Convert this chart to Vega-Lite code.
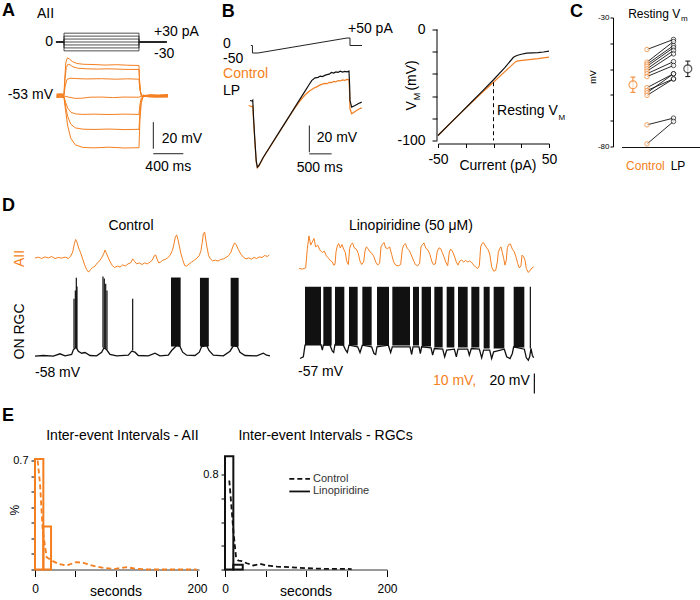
{
"$schema": "https://vega.github.io/schema/vega-lite/v6.json",
"background": "white",
"padding": {"left": 2, "top": 1.5, "right": 0, "bottom": 0},
"config": {
  "font": "Liberation Sans",
  "view": {"stroke": null},
  "axis": {"grid": false, "domainColor": "black", "tickColor": "black", "labelColor": "black", "titleColor": "black", "domainWidth": 1, "tickWidth": 1, "labelFlush": false, "labelOverlap": false},
  "text": {"color": "black", "fontSize": 14}
},
"spacing": 11,
"vconcat": [
{
 "bounds": "flush", "spacing": 26,
 "hconcat": [
   {
    "width": 190, "height": 155,
    "resolve": {"scale": {"x": "independent", "y": "independent"}},
    "encoding": {
      "x": {"field": "t", "type": "quantitative", "scale": {"domain": [-826.7, 1706.7], "nice": false, "zero": false}, "axis": null},
      "y": {"field": "v", "type": "quantitative", "scale": {"domain": [-110.8, 5.5], "nice": false, "zero": false}, "axis": null}
    },
    "layer": [
     {"data": {"values": [
       {"lvl":30,"i":0,"t":-107,"pA":0},{"lvl":30,"i":1,"t":0,"pA":0},{"lvl":30,"i":2,"t":0,"pA":30},{"lvl":30,"i":3,"t":1000,"pA":30},{"lvl":30,"i":4,"t":1000,"pA":0},{"lvl":30,"i":5,"t":1369,"pA":0},
       {"lvl":20,"i":0,"t":-107,"pA":0},{"lvl":20,"i":1,"t":0,"pA":0},{"lvl":20,"i":2,"t":0,"pA":20},{"lvl":20,"i":3,"t":1000,"pA":20},{"lvl":20,"i":4,"t":1000,"pA":0},{"lvl":20,"i":5,"t":1369,"pA":0},
       {"lvl":10,"i":0,"t":-107,"pA":0},{"lvl":10,"i":1,"t":0,"pA":0},{"lvl":10,"i":2,"t":0,"pA":10},{"lvl":10,"i":3,"t":1000,"pA":10},{"lvl":10,"i":4,"t":1000,"pA":0},{"lvl":10,"i":5,"t":1369,"pA":0},
       {"lvl":0,"i":0,"t":-107,"pA":0},{"lvl":0,"i":1,"t":0,"pA":0},{"lvl":0,"i":2,"t":0,"pA":0},{"lvl":0,"i":3,"t":1000,"pA":0},{"lvl":0,"i":4,"t":1000,"pA":0},{"lvl":0,"i":5,"t":1369,"pA":0},
       {"lvl":-10,"i":0,"t":-107,"pA":0},{"lvl":-10,"i":1,"t":0,"pA":0},{"lvl":-10,"i":2,"t":0,"pA":-10},{"lvl":-10,"i":3,"t":1000,"pA":-10},{"lvl":-10,"i":4,"t":1000,"pA":0},{"lvl":-10,"i":5,"t":1369,"pA":0},
       {"lvl":-20,"i":0,"t":-107,"pA":0},{"lvl":-20,"i":1,"t":0,"pA":0},{"lvl":-20,"i":2,"t":0,"pA":-20},{"lvl":-20,"i":3,"t":1000,"pA":-20},{"lvl":-20,"i":4,"t":1000,"pA":0},{"lvl":-20,"i":5,"t":1369,"pA":0},
       {"lvl":-30,"i":0,"t":-107,"pA":0},{"lvl":-30,"i":1,"t":0,"pA":0},{"lvl":-30,"i":2,"t":0,"pA":-30},{"lvl":-30,"i":3,"t":1000,"pA":-30},{"lvl":-30,"i":4,"t":1000,"pA":0},{"lvl":-30,"i":5,"t":1369,"pA":0}
      ]},
      "mark": {"type": "line", "color": "#222", "strokeWidth": 0.8},
      "encoding": {
        "y": {"field": "pA", "type": "quantitative", "scale": {"domain": [-442.4, 83.1], "nice": false, "zero": false}, "axis": null},
        "detail": {"field": "lvl", "type": "nominal"},
        "order": {"field": "i", "type": "quantitative"}
      }
     },
     {"data": {"values": [
       {"lvl":30,"t":-100,"v":-52.0},{"lvl":30,"t":-50,"v":-51.7},{"lvl":30,"t":0,"v":-52.0},{"lvl":30,"t":10,"v":-40},{"lvl":30,"t":25,"v":-28},{"lvl":30,"t":45,"v":-24.8},{"lvl":30,"t":70,"v":-25.5},{"lvl":30,"t":110,"v":-27.5},{"lvl":30,"t":170,"v":-29},{"lvl":30,"t":260,"v":-29.6},{"lvl":30,"t":400,"v":-29.8},{"lvl":30,"t":550,"v":-30.2},{"lvl":30,"t":700,"v":-29.9},{"lvl":30,"t":850,"v":-30.3},{"lvl":30,"t":1000,"v":-30.5},{"lvl":30,"t":1008,"v":-42},{"lvl":30,"t":1020,"v":-50},{"lvl":30,"t":1040,"v":-53.5},{"lvl":30,"t":1080,"v":-53},{"lvl":30,"t":1150,"v":-52.4},{"lvl":30,"t":1250,"v":-52.7},{"lvl":30,"t":1387,"v":-52.3},
       {"lvl":20,"t":-100,"v":-52.5},{"lvl":20,"t":-50,"v":-52.2},{"lvl":20,"t":0,"v":-52.5},{"lvl":20,"t":12,"v":-42},{"lvl":20,"t":30,"v":-32},{"lvl":20,"t":55,"v":-29.5},{"lvl":20,"t":80,"v":-30},{"lvl":20,"t":120,"v":-31.5},{"lvl":20,"t":180,"v":-32.5},{"lvl":20,"t":300,"v":-33},{"lvl":20,"t":450,"v":-33.2},{"lvl":20,"t":600,"v":-33},{"lvl":20,"t":800,"v":-33.4},{"lvl":20,"t":1000,"v":-33.5},{"lvl":20,"t":1008,"v":-44},{"lvl":20,"t":1022,"v":-51},{"lvl":20,"t":1045,"v":-53.8},{"lvl":20,"t":1090,"v":-53.2},{"lvl":20,"t":1160,"v":-52.8},{"lvl":20,"t":1260,"v":-53},{"lvl":20,"t":1387,"v":-52.6},
       {"lvl":10,"t":-100,"v":-53.0},{"lvl":10,"t":-50,"v":-52.7},{"lvl":10,"t":0,"v":-53},{"lvl":10,"t":15,"v":-46},{"lvl":10,"t":40,"v":-41},{"lvl":10,"t":80,"v":-40},{"lvl":10,"t":150,"v":-40.3},{"lvl":10,"t":300,"v":-40.6},{"lvl":10,"t":500,"v":-40.4},{"lvl":10,"t":700,"v":-40.8},{"lvl":10,"t":850,"v":-40.5},{"lvl":10,"t":1000,"v":-40.8},{"lvl":10,"t":1010,"v":-48},{"lvl":10,"t":1030,"v":-53.5},{"lvl":10,"t":1060,"v":-54},{"lvl":10,"t":1120,"v":-53.3},{"lvl":10,"t":1220,"v":-53.2},{"lvl":10,"t":1387,"v":-53},
       {"lvl":0,"t":-100,"v":-53.4},{"lvl":0,"t":-50,"v":-53.1},{"lvl":0,"t":0,"v":-53.4},{"lvl":0,"t":60,"v":-54.2},{"lvl":0,"t":150,"v":-55.2},{"lvl":0,"t":250,"v":-55},{"lvl":0,"t":350,"v":-54.3},{"lvl":0,"t":500,"v":-54.2},{"lvl":0,"t":650,"v":-54.6},{"lvl":0,"t":800,"v":-54.2},{"lvl":0,"t":1000,"v":-54.3},{"lvl":0,"t":1030,"v":-53.5},{"lvl":0,"t":1100,"v":-53.2},{"lvl":0,"t":1200,"v":-53.6},{"lvl":0,"t":1387,"v":-53.4},
       {"lvl":-10,"t":-100,"v":-53.8},{"lvl":-10,"t":-50,"v":-54.1},{"lvl":-10,"t":0,"v":-53.8},{"lvl":-10,"t":20,"v":-58},{"lvl":-10,"t":50,"v":-62.5},{"lvl":-10,"t":90,"v":-65.5},{"lvl":-10,"t":150,"v":-66.8},{"lvl":-10,"t":250,"v":-67.2},{"lvl":-10,"t":400,"v":-67},{"lvl":-10,"t":600,"v":-67.3},{"lvl":-10,"t":800,"v":-67},{"lvl":-10,"t":1000,"v":-67.2},{"lvl":-10,"t":1012,"v":-60},{"lvl":-10,"t":1030,"v":-55},{"lvl":-10,"t":1060,"v":-53.2},{"lvl":-10,"t":1120,"v":-53.6},{"lvl":-10,"t":1220,"v":-53.8},{"lvl":-10,"t":1387,"v":-53.6},
       {"lvl":-20,"t":-100,"v":-54.2},{"lvl":-20,"t":-50,"v":-53.9},{"lvl":-20,"t":0,"v":-54.2},{"lvl":-20,"t":20,"v":-61},{"lvl":-20,"t":50,"v":-69},{"lvl":-20,"t":90,"v":-74.5},{"lvl":-20,"t":150,"v":-77.3},{"lvl":-20,"t":250,"v":-78.3},{"lvl":-20,"t":400,"v":-78.5},{"lvl":-20,"t":600,"v":-78.2},{"lvl":-20,"t":800,"v":-78.6},{"lvl":-20,"t":1000,"v":-78.4},{"lvl":-20,"t":1012,"v":-66},{"lvl":-20,"t":1030,"v":-57},{"lvl":-20,"t":1060,"v":-53},{"lvl":-20,"t":1120,"v":-53.8},{"lvl":-20,"t":1220,"v":-54},{"lvl":-20,"t":1387,"v":-53.8},
       {"lvl":-30,"t":-100,"v":-54.6},{"lvl":-30,"t":-50,"v":-54.3},{"lvl":-30,"t":0,"v":-54.6},{"lvl":-30,"t":20,"v":-64},{"lvl":-30,"t":50,"v":-76},{"lvl":-30,"t":90,"v":-85},{"lvl":-30,"t":150,"v":-90},{"lvl":-30,"t":250,"v":-92},{"lvl":-30,"t":400,"v":-92.3},{"lvl":-30,"t":600,"v":-91.8},{"lvl":-30,"t":800,"v":-92.4},{"lvl":-30,"t":1000,"v":-92.2},{"lvl":-30,"t":1012,"v":-72},{"lvl":-30,"t":1030,"v":-59},{"lvl":-30,"t":1060,"v":-52.5},{"lvl":-30,"t":1120,"v":-54},{"lvl":-30,"t":1220,"v":-54.3},{"lvl":-30,"t":1387,"v":-54.2}
      ]},
      "mark": {"type": "line", "color": "#F47F20", "strokeWidth": 1},
      "encoding": {"detail": {"field": "lvl", "type": "nominal"}}
     },
     {"data": {"values": [{"t":1191,"t2":1191,"v":-73,"v2":-93},{"t":1191,"t2":1591,"v":-96.7,"v2":-96.7}]},
      "mark": {"type": "rule", "color": "#222", "strokeWidth": 1},
      "encoding": {"x2": {"field": "t2"}, "y2": {"field": "v2"}}
     },
     {"data": {"values": [{"t":-826.7,"v":10.4,"label":"A"}]},
      "mark": {"type": "text", "align": "left", "baseline": "middle", "fontSize": 18, "fontWeight": "bold"},
      "encoding": {"text": {"field": "label"}}
     },
     {"data": {"values": [{"t":-360,"v":8.3,"label":"AII"},{"t":1303,"v":-85.3,"label":"20 mV"}]},
      "mark": {"type": "text", "align": "left", "baseline": "middle", "fontSize": 14},
      "encoding": {"text": {"field": "label"}}
     },
     {"data": {"values": [{"t":-146.7,"v":-53,"label":"-53 mV"}]},
      "mark": {"type": "text", "align": "right", "baseline": "middle", "fontSize": 14},
      "encoding": {"text": {"field": "label"}}
     },
     {"data": {"values": [{"t":1391,"v":-106.3,"label":"400 ms"}]},
      "mark": {"type": "text", "align": "center", "baseline": "middle", "fontSize": 14},
      "encoding": {"text": {"field": "label"}}
     },
     {"data": {"values": [{"t":1200,"pA":33.2,"label":"+30 pA"},{"t":1200,"pA":-39,"label":"-30"}]},
      "mark": {"type": "text", "align": "left", "baseline": "middle", "fontSize": 14},
      "encoding": {"y": {"field": "pA", "type": "quantitative", "scale": {"domain": [-442.4, 83.1], "nice": false, "zero": false}, "axis": null}, "text": {"field": "label"}}
     },
     {"data": {"values": [{"t":-146.7,"pA":0,"label":"0"}]},
      "mark": {"type": "text", "align": "right", "baseline": "middle", "fontSize": 14},
      "encoding": {"y": {"field": "pA", "type": "quantitative", "scale": {"domain": [-442.4, 83.1], "nice": false, "zero": false}, "axis": null}, "text": {"field": "label"}}
     }
    ]
   },
   {
    "width": 194, "height": 155,
    "resolve": {"scale": {"x": "independent", "y": "independent"}},
    "encoding": {
      "x": {"field": "t", "type": "quantitative", "scale": {"domain": [-898.9, 3460.7], "nice": false, "zero": false}, "axis": null},
      "y": {"field": "v", "type": "quantitative", "scale": {"domain": [-98.7, 16.1], "nice": false, "zero": false}, "axis": null}
    },
    "layer": [
     {"data": {"values": [{"i":0,"t":-160,"pA":0},{"i":1,"t":-125,"pA":0},{"i":2,"t":-125,"pA":-50},{"i":3,"t":0,"pA":-50},{"i":4,"t":2000,"pA":50},{"i":5,"t":2067,"pA":50},{"i":6,"t":2067,"pA":0},{"i":7,"t":2337,"pA":0}]},
      "mark": {"type": "line", "color": "#222", "strokeWidth": 1},
      "encoding": {"y": {"field": "pA", "type": "quantitative", "scale": {"domain": [-846.7, 186.7], "nice": false, "zero": false}, "axis": null}, "order": {"field": "i", "type": "quantitative"}}
     },
     {"data": {"values": [
       {"t":-210,"v":-49.1},{"t":-140,"v":-49.9},{"t":-118,"v":-49.5},{"t":-100,"v":-60},{"t":-70,"v":-76},{"t":-40,"v":-91},{"t":-15,"v":-95.2},{"t":20,"v":-94},{"t":120,"v":-87.6},{"t":300,"v":-78.2},{"t":500,"v":-67.8},{"t":700,"v":-57.4},{"t":830,"v":-50.8},{"t":950,"v":-45.5},{"t":1050,"v":-41.5},{"t":1150,"v":-38.5},{"t":1250,"v":-36.3},{"t":1318,"v":-35.3},{"t":1400,"v":-33.8},{"t":1450,"v":-33.2},{"t":1500,"v":-32.7},{"t":1550,"v":-32.9},{"t":1600,"v":-31.9},{"t":1650,"v":-32.2},{"t":1700,"v":-31.2},{"t":1750,"v":-31.5},{"t":1800,"v":-30.6},{"t":1850,"v":-30.9},{"t":1900,"v":-30.1},{"t":1950,"v":-30.4},{"t":2000,"v":-29.7},{"t":2045,"v":-30.0},{"t":2060,"v":-41},{"t":2067,"v":-51.5},{"t":2105,"v":-55.2},{"t":2180,"v":-53.5},{"t":2260,"v":-51.8},{"t":2330,"v":-50.8}
      ]},
      "mark": {"type": "line", "color": "#F47F20", "strokeWidth": 1.2}
     },
     {"data": {"values": [
       {"t":-180,"v":-45.4},{"t":-130,"v":-45.8},{"t":-118,"v":-45.2},{"t":-100,"v":-58},{"t":-70,"v":-75},{"t":-40,"v":-90},{"t":-15,"v":-94.8},{"t":20,"v":-93.5},{"t":120,"v":-87.4},{"t":300,"v":-78.0},{"t":500,"v":-67.5},{"t":700,"v":-57.1},{"t":900,"v":-46.6},{"t":1050,"v":-38.8},{"t":1150,"v":-33.5},{"t":1206,"v":-30.6},{"t":1281,"v":-28.6},{"t":1350,"v":-28.2},{"t":1400,"v":-27.3},{"t":1450,"v":-27.6},{"t":1500,"v":-26.8},{"t":1550,"v":-26.2},{"t":1600,"v":-25.9},{"t":1650,"v":-24.6},{"t":1700,"v":-25.1},{"t":1750,"v":-24.2},{"t":1800,"v":-24.5},{"t":1850,"v":-23.7},{"t":1900,"v":-24.3},{"t":1950,"v":-23.8},{"t":2000,"v":-24.1},{"t":2045,"v":-23.6},{"t":2060,"v":-35},{"t":2067,"v":-45.4},{"t":2105,"v":-50.3},{"t":2180,"v":-49.1},{"t":2260,"v":-47.6},{"t":2330,"v":-46.6}
      ]},
      "mark": {"type": "line", "color": "#111", "strokeWidth": 1.2}
     },
     {"data": {"values": [{"t":1154,"t2":1154,"v":-63.9,"v2":-83.7},{"t":1154,"t2":1654,"v":-84.9,"v2":-84.9}]},
      "mark": {"type": "rule", "color": "#222", "strokeWidth": 1},
      "encoding": {"x2": {"field": "t2"}, "y2": {"field": "v2"}}
     },
     {"data": {"values": [{"t":-816,"v":20,"label":"B"}]},
      "mark": {"type": "text", "align": "left", "baseline": "middle", "fontSize": 18, "fontWeight": "bold"},
      "encoding": {"text": {"field": "label"}}
     },
     {"data": {"values": [{"t":-786,"v":-38.7,"label":"LP"},{"t":1319,"v":-73.5,"label":"20 mV"}]},
      "mark": {"type": "text", "align": "left", "baseline": "middle", "fontSize": 14},
      "encoding": {"text": {"field": "label"}}
     },
     {"data": {"values": [{"t":-786,"v":-26.1,"label":"Control"}]},
      "mark": {"type": "text", "align": "left", "baseline": "middle", "fontSize": 14, "color": "#F47F20"},
      "encoding": {"text": {"field": "label"}}
     },
     {"data": {"values": [{"t":1387,"v":-95.4,"label":"500 ms"}]},
      "mark": {"type": "text", "align": "center", "baseline": "middle", "fontSize": 14},
      "encoding": {"text": {"field": "label"}}
     },
     {"data": {"values": [{"t":-786,"pA":13.3,"label":"0"},{"t":-786,"pA":-86.7,"label":"-50"},{"t":2022,"pA":113.3,"label":"+50 pA"}]},
      "mark": {"type": "text", "align": "left", "baseline": "middle", "fontSize": 14},
      "encoding": {"y": {"field": "pA", "type": "quantitative", "scale": {"domain": [-846.7, 186.7], "nice": false, "zero": false}, "axis": null}, "text": {"field": "label"}}
     }
    ]
   },
  {
   "width": 111, "height": 123,
   "encoding": {
     "x": {"field": "c", "type": "quantitative", "scale": {"domain": [-50, 50], "nice": false, "zero": false},
           "axis": {"values": [-50, -25, 0, 25, 50], "labelExpr": "datum.value == -50 ? '-50' : datum.value == 50 ? '50' : ''", "offset": 3, "tickSize": 4, "labelFontSize": 14, "labelPadding": 5, "title": null}},
     "y": {"field": "v", "type": "quantitative", "scale": {"domain": [-100, 10.8], "nice": false, "zero": false},
           "axis": {"values": [0, -20, -40, -60, -80, -100], "labelExpr": "datum.value == 0 ? '0' : datum.value == -100 ? '-100' : ''", "offset": 1, "domain": false, "tickSize": 5, "labelFontSize": 14, "labelPadding": 7, "title": null}}
   },
   "layer": [
    {"data": {"values": [{"c":-50,"v":-95.5},{"c":-40,"v":-85.6},{"c":-30,"v":-75.8},{"c":-20,"v":-66},{"c":-10,"v":-56.5},{"c":0,"v":-47.5},{"c":10,"v":-38.2},{"c":20,"v":-29},{"c":22,"v":-28.3},{"c":30,"v":-27.3},{"c":40,"v":-26.3},{"c":50,"v":-24.9}]},
     "mark": {"type": "line", "color": "#F47F20", "strokeWidth": 1.2}
    },
    {"data": {"values": [{"c":-50,"v":-95.5},{"c":-40,"v":-85.5},{"c":-30,"v":-75.5},{"c":-20,"v":-65.5},{"c":-10,"v":-55.5},{"c":0,"v":-45.3},{"c":10,"v":-34.5},{"c":18,"v":-25},{"c":21,"v":-23.4},{"c":25,"v":-22.3},{"c":30,"v":-21.3},{"c":35,"v":-21.1},{"c":40,"v":-20.8},{"c":45,"v":-20.3},{"c":50,"v":-19.5}]},
     "mark": {"type": "line", "color": "#111", "strokeWidth": 1.2}
    },
    {"data": {"values": [{"c":0,"v":-47.5,"v2":-100}]},
     "mark": {"type": "rule", "color": "black", "strokeDash": [4, 3], "strokeWidth": 1},
     "encoding": {"y2": {"field": "v2"}}
    },
    {"data": {"values": [{"c":-50.9,"v":-100,"v2":0}]},
     "mark": {"type": "rule", "color": "black", "strokeWidth": 1},
     "encoding": {"y2": {"field": "v2"}}
    },
    {"data": {"values": [{"c":3.2,"v":-73.7,"label":"Resting V"}]},
     "mark": {"type": "text", "align": "left", "baseline": "middle", "fontSize": 14},
     "encoding": {"text": {"field": "label"}}
    },
    {"data": {"values": [{"c":58.6,"v":-79.7,"label":"M"}]},
     "mark": {"type": "text", "align": "left", "baseline": "middle", "fontSize": 8},
     "encoding": {"text": {"field": "label"}}
    },
    {"data": {"values": [{"c":4,"v":-123.4,"label":"Current (pA)"}]},
     "mark": {"type": "text", "align": "center", "baseline": "middle", "fontSize": 14},
     "encoding": {"text": {"field": "label"}}
    },
    {"data": {"values": [{"c":-73,"v":-68.7,"label":"V"},{"c":-73,"v":-41.4,"label":"(mV)"}]},
     "mark": {"type": "text", "align": "center", "baseline": "middle", "fontSize": 14, "angle": 270},
     "encoding": {"text": {"field": "label"}}
    },
    {"data": {"values": [{"c":-68.9,"v":-60.4,"label":"M"}]},
     "mark": {"type": "text", "align": "center", "baseline": "middle", "fontSize": 9, "angle": 270},
     "encoding": {"text": {"field": "label"}}
    }
   ]
  },
 {
  "width": 125, "height": 129,
  "data": {"values": [
    {"pair":1,"cond":"Control","x":1,"mV":-42.4},{"pair":1,"cond":"LP","x":2,"mV":-38.5},
    {"pair":2,"cond":"Control","x":1,"mV":-47.3},{"pair":2,"cond":"LP","x":2,"mV":-39.3},
    {"pair":3,"cond":"Control","x":1,"mV":-48.1},{"pair":3,"cond":"LP","x":2,"mV":-40.9},
    {"pair":4,"cond":"Control","x":1,"mV":-48.9},{"pair":4,"cond":"LP","x":2,"mV":-41.7},
    {"pair":5,"cond":"Control","x":1,"mV":-49.9},{"pair":5,"cond":"LP","x":2,"mV":-42.8},
    {"pair":6,"cond":"Control","x":1,"mV":-50.8},{"pair":6,"cond":"LP","x":2,"mV":-44.1},
    {"pair":7,"cond":"Control","x":1,"mV":-51.8},{"pair":7,"cond":"LP","x":2,"mV":-47.1},
    {"pair":8,"cond":"Control","x":1,"mV":-52.9},{"pair":8,"cond":"LP","x":2,"mV":-48.6},
    {"pair":9,"cond":"Control","x":1,"mV":-57.2},{"pair":9,"cond":"LP","x":2,"mV":-51.8},
    {"pair":10,"cond":"Control","x":1,"mV":-58.3},{"pair":10,"cond":"LP","x":2,"mV":-53.8},
    {"pair":11,"cond":"Control","x":1,"mV":-59.2},{"pair":11,"cond":"LP","x":2,"mV":-51.8},
    {"pair":12,"cond":"Control","x":1,"mV":-60.2},{"pair":12,"cond":"LP","x":2,"mV":-53.8},
    {"pair":13,"cond":"Control","x":1,"mV":-71.6},{"pair":13,"cond":"LP","x":2,"mV":-69.0},
    {"pair":14,"cond":"Control","x":1,"mV":-79.0},{"pair":14,"cond":"LP","x":2,"mV":-70.3}
  ]},
  "encoding": {
    "x": {"field": "x", "type": "quantitative", "scale": {"domain": [-1.717, 3.0], "nice": false, "zero": false}, "axis": null},
    "y": {"field": "mV", "type": "quantitative", "scale": {"domain": [-80, -30], "nice": false, "zero": false},
          "axis": {"offset": -38, "values": [-30, -40, -50, -60, -70, -80], "labelExpr": "datum.value == -30 ? '-30' : datum.value == -80 ? '-80' : ''", "tickSize": 3, "labelFontSize": 8, "labelPadding": 1, "title": null}}
  },
  "layer": [
   {"data": {"values": [{"x":0.057,"xb":3.0,"mV":-80.39}]},
    "mark": {"type": "rule", "color": "#111", "strokeWidth": 1},
    "encoding": {"x2": {"field": "xb"}}
   },
   {"mark": {"type": "line", "color": "#111", "strokeWidth": 0.9},
    "encoding": {"detail": {"field": "pair", "type": "nominal"}}
   },
   {"transform": [{"filter": "datum.cond == 'Control'"}],
    "mark": {"type": "point", "shape": "circle", "size": 20, "filled": true, "fill": "white", "stroke": "#F47F20", "strokeWidth": 1}
   },
   {"transform": [{"filter": "datum.cond == 'LP'"}],
    "mark": {"type": "point", "shape": "circle", "size": 20, "filled": true, "fill": "white", "stroke": "#111", "strokeWidth": 1}
   },
   {"data": {"values": [{"x":0.47,"mV":-59.0,"hi":-53.1}]},
    "mark": {"type": "rule", "color": "#F47F20", "strokeWidth": 1},
    "encoding": {"y2": {"field": "hi"}}
   },
   {"data": {"values": [{"x":2.54,"mV":-52.9,"hi":-46.9}]},
    "mark": {"type": "rule", "color": "#111", "strokeWidth": 1},
    "encoding": {"y2": {"field": "hi"}}
   },
   {"data": {"values": [{"x":0.376,"xb":0.564,"mV":-59.0},{"x":0.376,"xb":0.564,"mV":-53.1}]},
    "mark": {"type": "rule", "color": "#F47F20", "strokeWidth": 1},
    "encoding": {"x2": {"field": "xb"}}
   },
   {"data": {"values": [{"x":2.446,"xb":2.634,"mV":-52.9},{"x":2.446,"xb":2.634,"mV":-46.9}]},
    "mark": {"type": "rule", "color": "#111", "strokeWidth": 1},
    "encoding": {"x2": {"field": "xb"}}
   },
   {"data": {"values": [{"x":0.47,"mV":-56.1}]},
    "mark": {"type": "point", "shape": "circle", "size": 64, "filled": true, "fill": "white", "stroke": "#F47F20", "strokeWidth": 1.2}
   },
   {"data": {"values": [{"x":2.54,"mV":-49.9}]},
    "mark": {"type": "point", "shape": "circle", "size": 64, "filled": true, "fill": "white", "stroke": "#111", "strokeWidth": 1.2}
   },
   {"data": {"values": [{"x":0.94,"mV":-87.75,"label":"Control"}]},
    "mark": {"type": "text", "align": "center", "baseline": "middle", "fontSize": 12, "color": "#F47F20"},
    "encoding": {"text": {"field": "label"}}
   },
   {"data": {"values": [{"x":2.17,"mV":-87.75,"label":"LP"}]},
    "mark": {"type": "text", "align": "center", "baseline": "middle", "fontSize": 12},
    "encoding": {"text": {"field": "label"}}
   },
   {"data": {"values": [{"x":0.29,"mV":-28.6,"label":"Resting V"}]},
    "mark": {"type": "text", "align": "left", "baseline": "middle", "fontSize": 12},
    "encoding": {"text": {"field": "label"}}
   },
   {"data": {"values": [{"x":2.28,"mV":-30.6,"label":"m"}]},
    "mark": {"type": "text", "align": "left", "baseline": "middle", "fontSize": 8},
    "encoding": {"text": {"field": "label"}}
   },
   {"data": {"values": [{"x":-1.04,"mV":-53.1,"label":"mV"}]},
    "mark": {"type": "text", "align": "center", "baseline": "middle", "fontSize": 9, "angle": 270},
    "encoding": {"text": {"field": "label"}}
   },
   {"data": {"values": [{"x":-1.906,"mV":-27.7,"label":"C"}]},
    "mark": {"type": "text", "align": "left", "baseline": "middle", "fontSize": 18, "fontWeight": "bold"},
    "encoding": {"text": {"field": "label"}}
   }
  ]
 }
 ]
},
{
 "bounds": "flush", "spacing": 26,
 "hconcat": [
 {
  "width": 271, "height": 208,
  "resolve": {"scale": {"x": "independent", "y": "independent"}},
  "encoding": {
    "x": {"field": "t", "type": "quantitative", "scale": {"domain": [-8.425, 60.77], "nice": false, "zero": false}, "axis": null},
    "y": {"field": "v", "type": "quantitative", "scale": {"domain": [-96, 112], "nice": false, "zero": false}, "axis": null}
  },
  "layer": [
   {"data": {"values": [
     {"t":0.0,"v":-44.8},{"t":0.85,"v":-44.3},{"t":1.7,"v":-45.0},{"t":2.55,"v":-44.2},{"t":3.4,"v":-44.7},{"t":4.26,"v":-44.0},{"t":5.1,"v":-45.0},{"t":5.96,"v":-44.5},{"t":6.81,"v":-44.8},{"t":7.66,"v":-44.3},{"t":8.51,"v":-45.0},{"t":9.11,"v":-43.8},{"t":9.62,"v":-41.8},{"t":10.04,"v":-37.7},{"t":10.38,"v":-35.5},{"t":10.72,"v":-36.8},{"t":11.15,"v":-39.8},{"t":11.66,"v":-42.2},{"t":12.17,"v":-45.2},{"t":12.68,"v":-48.2},{"t":13.19,"v":-50.5},{"t":13.7,"v":-51.8},{"t":14.21,"v":-50.5},{"t":14.72,"v":-49.5},{"t":15.32,"v":-48.8},{"t":15.91,"v":-47.2},{"t":16.59,"v":-46.0},{"t":17.1,"v":-44.3},{"t":17.53,"v":-42.7},{"t":17.87,"v":-40.8},{"t":18.21,"v":-42.2},{"t":18.64,"v":-44.3},{"t":19.15,"v":-46.5},{"t":19.74,"v":-48.5},{"t":20.34,"v":-49.5},{"t":21.02,"v":-48.8},{"t":21.7,"v":-49.3},{"t":22.38,"v":-48.2},{"t":23.06,"v":-48.7},{"t":23.75,"v":-47.7},{"t":24.43,"v":-47.2},{"t":24.94,"v":-45.2},{"t":25.45,"v":-46.5},{"t":25.96,"v":-47.7},{"t":26.64,"v":-47.2},{"t":27.32,"v":-48.0},{"t":28.0,"v":-47.2},{"t":28.68,"v":-47.7},{"t":29.37,"v":-46.8},{"t":29.96,"v":-45.8},{"t":30.39,"v":-43.8},{"t":30.81,"v":-43.2},{"t":31.15,"v":-45.2},{"t":31.58,"v":-47.2},{"t":32.09,"v":-46.8},{"t":32.6,"v":-45.8},{"t":33.19,"v":-45.5},{"t":33.79,"v":-44.8},{"t":34.47,"v":-43.5},{"t":35.07,"v":-41.0},{"t":35.49,"v":-37.7},{"t":35.83,"v":-34.3},{"t":36.17,"v":-33.2},{"t":36.51,"v":-35.5},{"t":36.85,"v":-38.8},{"t":37.28,"v":-42.7},{"t":37.7,"v":-45.5},{"t":38.21,"v":-48.5},{"t":38.72,"v":-48.8},{"t":39.32,"v":-47.8},{"t":40.0,"v":-46.8},{"t":40.68,"v":-45.8},{"t":41.36,"v":-44.8},{"t":41.96,"v":-43.5},{"t":42.38,"v":-41.0},{"t":42.72,"v":-36.8},{"t":42.98,"v":-32.7},{"t":43.32,"v":-31.8},{"t":43.57,"v":-35.2},{"t":43.91,"v":-39.3},{"t":44.34,"v":-43.5},{"t":44.77,"v":-45.2},{"t":45.36,"v":-46.2},{"t":46.04,"v":-45.8},{"t":46.73,"v":-46.3},{"t":47.41,"v":-45.5},{"t":48.09,"v":-45.2},{"t":48.77,"v":-44.5},{"t":49.45,"v":-43.5},{"t":50.05,"v":-41.8},{"t":50.56,"v":-38.8},{"t":50.98,"v":-37.2},{"t":51.41,"v":-38.2},{"t":51.92,"v":-40.5},{"t":52.52,"v":-42.7},{"t":53.2,"v":-44.3},{"t":53.88,"v":-45.2},{"t":54.56,"v":-44.7},{"t":55.24,"v":-45.3},{"t":55.92,"v":-44.5},{"t":56.61,"v":-45.0},{"t":57.29,"v":-44.2},{"t":57.97,"v":-44.5},{"t":58.65,"v":-43.5},{"t":59.33,"v":-44.0},{"t":59.83,"v":-43.2}
    ]},
    "mark": {"type": "line", "color": "#F47F20", "strokeWidth": 1},
    "encoding": {"y": {"field": "v", "type": "quantitative", "scale": {"domain": [-113, -9], "nice": false, "zero": false}, "axis": null}}
   },
   {"data": {"values": [
     {"t":0,"v":-57.7},{"t":2.13,"v":-57.0},{"t":4.68,"v":-57.7},{"t":6.38,"v":-55.3},{"t":7.66,"v":-57.3},{"t":9.36,"v":-56.0},{"t":9.79,"v":-51.3},{"t":10.47,"v":-48.7},{"t":11.06,"v":-52.7},{"t":11.92,"v":-54.7},{"t":12.77,"v":-54.0},{"t":14.04,"v":-57.0},{"t":15.74,"v":-57.3},{"t":17.02,"v":-53.7},{"t":17.62,"v":-49.3},{"t":18.3,"v":-51.3},{"t":19.15,"v":-56.0},{"t":20.85,"v":-57.3},{"t":23.83,"v":-56.7},{"t":24.68,"v":-52.7},{"t":25.53,"v":-53.7},{"t":26.38,"v":-57.0},{"t":28.94,"v":-57.3},{"t":30.64,"v":-54.7},{"t":31.91,"v":-57.3},{"t":34.04,"v":-56.7},{"t":34.89,"v":-52.0},{"t":36.17,"v":-47.0},{"t":37.02,"v":-48.0},{"t":37.7,"v":-53.7},{"t":38.72,"v":-56.7},{"t":40.85,"v":-57.0},{"t":41.96,"v":-53.7},{"t":42.55,"v":-48.0},{"t":43.83,"v":-47.0},{"t":44.42,"v":-52.0},{"t":45.53,"v":-56.7},{"t":48.09,"v":-57.3},{"t":49.79,"v":-52.7},{"t":50.64,"v":-47.3},{"t":51.66,"v":-48.0},{"t":52.34,"v":-53.7},{"t":53.62,"v":-57.0},{"t":56.6,"v":-57.3},{"t":58.3,"v":-54.7},{"t":59.15,"v":-56.7},{"t":60.0,"v":-57.3}
    ]},
    "mark": {"type": "line", "color": "#111", "strokeWidth": 1.3}
   },
   {"data": {"values": [
     {"t":9.96,"v":-0.3,"lo":-50},{"t":10.3,"v":8,"lo":-49},{"t":10.55,"v":20.7,"lo":-49},{"t":10.72,"v":12,"lo":-50},
     {"t":17.36,"v":22,"lo":-49},{"t":17.7,"v":20,"lo":-49},{"t":18.05,"v":14.7,"lo":-50},{"t":18.38,"v":8,"lo":-51},
     {"t":24.94,"v":-0.3,"lo":-52}
    ]},
    "mark": {"type": "rule", "color": "#111", "strokeWidth": 1.2},
    "encoding": {"y2": {"field": "lo"}}
   },
   {"data": {"values": [
     {"t":34.72,"t2":37.19,"v":21,"lo":-48},{"t":42.12,"t2":44.38,"v":20.7,"lo":-48},{"t":49.96,"t2":52.0,"v":20.7,"lo":-48}
    ]},
    "mark": {"type": "rect", "color": "#111"},
    "encoding": {"x2": {"field": "t2"}, "y2": {"field": "lo"}}
   },
   {"data": {"values": [{"t":-8.425,"v":92.5,"label":"D"}]},
    "mark": {"type": "text", "align": "left", "baseline": "middle", "fontSize": 18, "fontWeight": "bold"},
    "encoding": {"text": {"field": "label"}}
   },
   {"data": {"values": [{"t":24.5,"v":73,"label":"Control"}]},
    "mark": {"type": "text", "align": "center", "baseline": "middle", "fontSize": 14},
    "encoding": {"text": {"field": "label"}}
   },
   {"data": {"values": [{"t":0,"v":-74.5,"label":"-58 mV"}]},
    "mark": {"type": "text", "align": "left", "baseline": "middle", "fontSize": 14},
    "encoding": {"text": {"field": "label"}}
   },
   {"data": {"values": [{"t":-3.83,"v":-33,"label":"ON RGC"}]},
    "mark": {"type": "text", "align": "center", "baseline": "middle", "fontSize": 14, "angle": 270},
    "encoding": {"text": {"field": "label"}}
   },
   {"data": {"values": [{"t":-3.83,"v":-45,"label":"AII"}]},
    "mark": {"type": "text", "align": "center", "baseline": "middle", "fontSize": 14, "angle": 270, "color": "#F47F20"},
    "encoding": {"y": {"field": "v", "type": "quantitative", "scale": {"domain": [-113, -9], "nice": false, "zero": false}, "axis": null}, "text": {"field": "label"}}
   }
  ]
 },
 {
  "width": 234, "height": 208,
  "resolve": {"scale": {"x": "independent", "y": "independent"}},
  "encoding": {
    "x": {"field": "t", "type": "quantitative", "scale": {"domain": [0, 60], "nice": false, "zero": false}, "axis": null},
    "y": {"field": "v", "type": "quantitative", "scale": {"domain": [-96, 112], "nice": false, "zero": false}, "axis": null}
  },
  "layer": [
   {"data": {"values": [
     {"t":0.0,"v":-50.0},{"t":0.85,"v":-50.3},{"t":1.71,"v":-49.7},{"t":2.14,"v":-40.0},{"t":2.56,"v":-33.7},{"t":2.99,"v":-38.3},{"t":3.42,"v":-36.7},{"t":3.85,"v":-35.0},{"t":4.27,"v":-39.2},{"t":4.79,"v":-38.3},{"t":5.38,"v":-40.8},{"t":5.98,"v":-42.0},{"t":6.5,"v":-41.3},{"t":7.01,"v":-43.7},{"t":7.52,"v":-44.7},{"t":8.03,"v":-46.0},{"t":8.55,"v":-46.7},{"t":8.89,"v":-48.3},{"t":9.23,"v":-48.0},{"t":9.49,"v":-41.7},{"t":9.83,"v":-38.7},{"t":10.17,"v":-37.5},{"t":10.6,"v":-39.7},{"t":11.03,"v":-38.0},{"t":11.45,"v":-40.3},{"t":11.88,"v":-42.0},{"t":12.22,"v":-46.3},{"t":12.65,"v":-48.0},{"t":12.99,"v":-40.0},{"t":13.33,"v":-38.0},{"t":13.76,"v":-37.3},{"t":14.19,"v":-39.7},{"t":14.7,"v":-40.3},{"t":15.21,"v":-42.5},{"t":15.64,"v":-46.3},{"t":16.07,"v":-48.0},{"t":16.58,"v":-46.7},{"t":16.92,"v":-41.3},{"t":17.27,"v":-39.2},{"t":17.69,"v":-40.0},{"t":18.2,"v":-41.7},{"t":18.72,"v":-42.5},{"t":19.23,"v":-44.2},{"t":19.66,"v":-46.7},{"t":20.17,"v":-48.3},{"t":20.68,"v":-47.3},{"t":21.03,"v":-39.2},{"t":21.37,"v":-38.0},{"t":21.79,"v":-37.0},{"t":22.22,"v":-39.7},{"t":22.73,"v":-40.0},{"t":23.25,"v":-39.2},{"t":23.76,"v":-43.0},{"t":24.27,"v":-46.7},{"t":24.79,"v":-48.3},{"t":25.47,"v":-48.7},{"t":26.07,"v":-48.0},{"t":26.5,"v":-40.3},{"t":26.84,"v":-38.3},{"t":27.27,"v":-37.5},{"t":27.78,"v":-40.0},{"t":28.29,"v":-41.0},{"t":28.8,"v":-43.3},{"t":29.32,"v":-45.8},{"t":29.83,"v":-48.0},{"t":30.43,"v":-48.7},{"t":30.94,"v":-47.3},{"t":31.28,"v":-39.2},{"t":31.62,"v":-38.0},{"t":32.05,"v":-37.3},{"t":32.56,"v":-40.0},{"t":33.08,"v":-40.8},{"t":33.59,"v":-43.0},{"t":34.02,"v":-46.3},{"t":34.44,"v":-48.0},{"t":34.96,"v":-47.7},{"t":35.47,"v":-41.3},{"t":35.9,"v":-39.7},{"t":36.32,"v":-40.0},{"t":36.75,"v":-42.0},{"t":37.18,"v":-44.2},{"t":37.61,"v":-46.7},{"t":38.12,"v":-48.7},{"t":38.55,"v":-41.7},{"t":38.89,"v":-40.3},{"t":39.32,"v":-41.3},{"t":39.83,"v":-43.7},{"t":40.34,"v":-46.7},{"t":40.77,"v":-48.3},{"t":41.2,"v":-46.3},{"t":41.71,"v":-45.8},{"t":42.22,"v":-46.7},{"t":42.73,"v":-46.0},{"t":43.25,"v":-46.7},{"t":43.76,"v":-46.2},{"t":44.27,"v":-47.0},{"t":44.79,"v":-48.3},{"t":45.3,"v":-49.3},{"t":45.81,"v":-50.0},{"t":46.24,"v":-48.7},{"t":46.58,"v":-39.2},{"t":46.92,"v":-37.5},{"t":47.26,"v":-37.0},{"t":47.69,"v":-38.3},{"t":48.12,"v":-39.7},{"t":48.55,"v":-40.8},{"t":48.97,"v":-43.3},{"t":49.4,"v":-49.2},{"t":49.91,"v":-51.3},{"t":50.43,"v":-51.0},{"t":50.85,"v":-46.7},{"t":51.11,"v":-42.0},{"t":51.45,"v":-40.0},{"t":51.79,"v":-39.2},{"t":52.14,"v":-42.0},{"t":52.48,"v":-45.0},{"t":52.82,"v":-48.3},{"t":53.16,"v":-45.8},{"t":53.42,"v":-39.7},{"t":53.76,"v":-38.0},{"t":54.19,"v":-37.7},{"t":54.7,"v":-40.3},{"t":55.21,"v":-41.7},{"t":55.64,"v":-44.2},{"t":56.07,"v":-47.5},{"t":56.49,"v":-49.7},{"t":56.92,"v":-48.7},{"t":57.18,"v":-43.3},{"t":57.61,"v":-44.2},{"t":57.95,"v":-45.8},{"t":58.29,"v":-50.0},{"t":58.8,"v":-52.0},{"t":59.32,"v":-50.8},{"t":59.74,"v":-49.7},{"t":60.17,"v":-49.2}
    ]},
    "mark": {"type": "line", "color": "#F47F20", "strokeWidth": 1},
    "encoding": {"y": {"field": "v", "type": "quantitative", "scale": {"domain": [-113, -9], "nice": false, "zero": false}, "axis": null}}
   },
   {"data": {"values": [
     {"t":0.26,"v":-60.0},{"t":1.11,"v":-58.3},{"t":1.54,"v":-46.7},{"t":2.39,"v":-44.0},{"t":4.1,"v":-45.0},{"t":5.64,"v":-46.0},{"t":5.98,"v":-51.7},{"t":6.24,"v":-46.7},{"t":7.95,"v":-46.7},{"t":8.55,"v":-52.7},{"t":8.89,"v":-54.0},{"t":9.23,"v":-46.0},{"t":11.37,"v":-46.7},{"t":11.97,"v":-51.7},{"t":12.39,"v":-54.0},{"t":12.82,"v":-46.7},{"t":15.04,"v":-48.3},{"t":15.64,"v":-54.0},{"t":16.24,"v":-46.7},{"t":18.63,"v":-48.3},{"t":19.23,"v":-55.0},{"t":19.66,"v":-56.0},{"t":20.0,"v":-48.3},{"t":22.91,"v":-46.7},{"t":23.5,"v":-54.0},{"t":23.93,"v":-48.3},{"t":28.46,"v":-48.3},{"t":28.89,"v":-56.0},{"t":29.23,"v":-48.3},{"t":30.77,"v":-48.3},{"t":31.11,"v":-55.0},{"t":31.45,"v":-48.3},{"t":33.85,"v":-49.3},{"t":34.27,"v":-56.7},{"t":34.7,"v":-50.0},{"t":36.84,"v":-50.7},{"t":37.35,"v":-58.3},{"t":37.86,"v":-51.7},{"t":39.83,"v":-50.7},{"t":40.34,"v":-58.3},{"t":40.77,"v":-50.7},{"t":43.25,"v":-50.7},{"t":43.67,"v":-56.7},{"t":44.19,"v":-50.0},{"t":46.24,"v":-50.7},{"t":46.84,"v":-59.3},{"t":47.35,"v":-51.7},{"t":48.89,"v":-51.7},{"t":49.4,"v":-60.0},{"t":49.91,"v":-53.3},{"t":52.65,"v":-50.7},{"t":53.25,"v":-58.3},{"t":54.1,"v":-60.0},{"t":54.7,"v":-55.0},{"t":55.04,"v":-48.3},{"t":57.78,"v":-50.7},{"t":58.29,"v":-59.3},{"t":58.8,"v":-61.7},{"t":59.14,"v":-58.3},{"t":59.49,"v":-50.0},{"t":59.83,"v":-56.7},{"t":60.17,"v":-59.3}
    ]},
    "mark": {"type": "line", "color": "#111", "strokeWidth": 1.3}
   },
   {"data": {"values": [
     {"t":1.538,"t2":5.641,"v":11.7,"lo":-47},{"t":6.239,"t2":8.376,"v":11.7,"lo":-47},{"t":9.23,"t2":11.624,"v":11.7,"lo":-47},{"t":12.82,"t2":15.042,"v":11.7,"lo":-47},{"t":16.239,"t2":18.632,"v":11.7,"lo":-47},{"t":20.0,"t2":23.077,"v":11.7,"lo":-47},{"t":23.931,"t2":28.461,"v":11.7,"lo":-47},{"t":29.23,"t2":30.769,"v":11.7,"lo":-47},{"t":31.453,"t2":33.846,"v":11.7,"lo":-48},{"t":34.7,"t2":36.837,"v":11.7,"lo":-49},{"t":37.863,"t2":39.829,"v":11.7,"lo":-49},{"t":40.769,"t2":43.247,"v":11.7,"lo":-49},{"t":44.188,"t2":46.239,"v":11.7,"lo":-49},{"t":47.35,"t2":48.889,"v":11.7,"lo":-50},{"t":49.914,"t2":52.649,"v":11.7,"lo":-50},{"t":55.042,"t2":57.777,"v":11.7,"lo":-49}
    ]},
    "mark": {"type": "rect", "color": "#111"},
    "encoding": {"x2": {"field": "t2"}, "y2": {"field": "lo"}}
   },
   {"data": {"values": [{"t":59.32,"v":11.7,"lo":-50},{"t":60.35,"v":-75,"lo":-95}]},
    "mark": {"type": "rule", "color": "#111", "strokeWidth": 1.2},
    "encoding": {"y2": {"field": "lo"}}
   },
   {"data": {"values": [{"t":28.7,"v":73,"label":"Linopiridine (50 μM)"}]},
    "mark": {"type": "text", "align": "center", "baseline": "middle", "fontSize": 14},
    "encoding": {"text": {"field": "label"}}
   },
   {"data": {"values": [{"t":-0.26,"v":-73,"label":"-57 mV"}]},
    "mark": {"type": "text", "align": "left", "baseline": "middle", "fontSize": 14},
    "encoding": {"text": {"field": "label"}}
   },
   {"data": {"values": [{"t":59.2,"v":-82,"label":"20 mV"}]},
    "mark": {"type": "text", "align": "right", "baseline": "middle", "fontSize": 14},
    "encoding": {"text": {"field": "label"}}
   },
   {"data": {"values": [{"t":45.4,"v":-82,"label":"10 mV,"}]},
    "mark": {"type": "text", "align": "right", "baseline": "middle", "fontSize": 14, "color": "#F47F20"},
    "encoding": {"text": {"field": "label"}}
   }
  ]
 }
 ]
},
{
 "bounds": "flush", "spacing": 26,
 "hconcat": [
 {
  "width": 7, "height": 10,
  "data": {"values": [{"a": 1}]},
  "mark": {"type": "text", "opacity": 0},
  "encoding": {"text": {"value": " "}}
 },
 {
  "width": 164, "height": 162,
  "encoding": {
    "x": {"field": "s", "type": "quantitative", "scale": {"domain": [0, 202.47], "nice": false, "zero": false},
          "axis": {"values": [0, 50, 100, 150, 200], "labelExpr": "datum.value == 0 ? '0' : datum.value == 200 ? '200' : ''", "tickSize": 7, "domainColor": "#9a9a9a", "domainWidth": 2, "labelFontSize": 12, "labelPadding": 7, "title": null}},
    "y": {"field": "p", "type": "quantitative", "scale": {"domain": [0, 1.0405], "nice": false, "zero": false},
          "axis": {"values": [0, 0.1, 0.2, 0.3, 0.4, 0.5, 0.6, 0.7], "labelExpr": "datum.value == 0.7 ? '0.7' : ''", "domain": false, "tickSize": 4, "labelFontSize": 11, "labelPadding": 3, "title": null}}
  },
  "layer": [
   {"data": {"values": [{"s":0,"p":0,"p2":0.7}]},
    "mark": {"type": "rule", "color": "black", "strokeWidth": 1},
    "encoding": {"y2": {"field": "p2"}}
   },
   {"data": {"values": [{"s":0,"s2":10.3,"p":0.71},{"s":10.3,"s2":19.8,"p":0.276}]},
    "mark": {"type": "rect", "fill": "transparent", "stroke": "#F47F20", "strokeWidth": 2},
    "encoding": {"x2": {"field": "s2"}, "y2": {"datum": 0}}
   },
   {"data": {"values": [{"s":3.3,"p":0.70},{"s":6.2,"p":0.55},{"s":9.5,"p":0.25},{"s":14.4,"p":0.079},{"s":20.6,"p":0.058},{"s":28.8,"p":0.036},{"s":39.1,"p":0.026},{"s":50.6,"p":0.047},{"s":59.7,"p":0.043},{"s":70,"p":0.026},{"s":84.4,"p":0.010},{"s":98.8,"p":0.004},{"s":113.2,"p":0.015},{"s":125.5,"p":0.004},{"s":142,"p":0.0},{"s":162.6,"p":0.0},{"s":199.6,"p":0.0}]},
    "mark": {"type": "line", "color": "#F47F20", "strokeWidth": 1.8, "strokeDash": [5, 3]}
   },
   {"data": {"values": [{"s":108,"p":0.856,"label":"Inter-event Intervals - AII"},{"s":100,"p":-0.146,"label":"seconds"}]},
    "mark": {"type": "text", "align": "center", "baseline": "middle", "fontSize": 14},
    "encoding": {"text": {"field": "label"}}
   },
   {"data": {"values": [{"s":-24.7,"p":0.381,"label":"%"}]},
    "mark": {"type": "text", "align": "center", "baseline": "middle", "fontSize": 12, "angle": 270},
    "encoding": {"text": {"field": "label"}}
   },
   {"data": {"values": [{"s":-40.7,"p":0.985,"label":"E"}]},
    "mark": {"type": "text", "align": "left", "baseline": "middle", "fontSize": 18, "fontWeight": "bold"},
    "encoding": {"text": {"field": "label"}}
   }
  ]
 },
 {
  "width": 162, "height": 162,
  "encoding": {
    "x": {"field": "s", "type": "quantitative", "scale": {"domain": [0, 200], "nice": false, "zero": false},
          "axis": {"values": [0, 50, 100, 150, 200], "labelExpr": "datum.value == 0 ? '0' : datum.value == 200 ? '200' : ''", "tickSize": 7, "domainColor": "#9a9a9a", "domainWidth": 2, "labelFontSize": 12, "labelPadding": 7, "title": null}},
    "y": {"field": "p", "type": "quantitative", "scale": {"domain": [0, 1.37], "nice": false, "zero": false},
          "axis": {"values": [0, 0.2, 0.4, 0.6, 0.8], "labelExpr": "datum.value == 0.8 ? '0.8' : ''", "domain": false, "tickSize": 4, "labelFontSize": 11, "labelPadding": 3, "title": null}}
  },
  "layer": [
   {"data": {"values": [{"s":0,"p":0,"p2":0.8}]},
    "mark": {"type": "rule", "color": "black", "strokeWidth": 1},
    "encoding": {"y2": {"field": "p2"}}
   },
   {"data": {"values": [{"s":0,"s2":10.3,"p":0.958},{"s":10.3,"s2":21.9,"p":0.04}]},
    "mark": {"type": "rect", "fill": "transparent", "stroke": "#111", "strokeWidth": 2},
    "encoding": {"x2": {"field": "s2"}, "y2": {"datum": 0}}
   },
   {"data": {"values": [{"s":5.3,"p":0.753},{"s":7.0,"p":0.611},{"s":10.3,"p":0.33},{"s":13.6,"p":0.104},{"s":16.4,"p":0.076},{"s":20.6,"p":0.070},{"s":26.8,"p":0.053},{"s":34.9,"p":0.034},{"s":43.2,"p":0.047},{"s":51.4,"p":0.034},{"s":63.8,"p":0.025},{"s":80.2,"p":0.019},{"s":100.8,"p":0.011},{"s":125.5,"p":0.005},{"s":150.2,"p":0.005},{"s":156.4,"p":0.003}]},
    "mark": {"type": "line", "color": "#111", "strokeWidth": 1.8, "strokeDash": [5, 3]}
   },
   {"data": {"values": [{"s":79.4,"s2":104.9,"p":0.766}]},
    "mark": {"type": "rule", "color": "#111", "strokeWidth": 1.8, "strokeDash": [5, 3]},
    "encoding": {"x2": {"field": "s2"}}
   },
   {"data": {"values": [{"s":79.4,"s2":104.9,"p":0.66}]},
    "mark": {"type": "rule", "color": "#111", "strokeWidth": 1.8},
    "encoding": {"x2": {"field": "s2"}}
   },
   {"data": {"values": [{"s":108.6,"p":0.766,"label":"Control"},{"s":108.6,"p":0.66,"label":"Linopiridine"}]},
    "mark": {"type": "text", "align": "left", "baseline": "middle", "fontSize": 11, "color": "#333"},
    "encoding": {"text": {"field": "label"}}
   },
   {"data": {"values": [{"s":124.1,"p":1.127,"label":"Inter-event Intervals - RGCs"},{"s":100,"p":-0.192,"label":"seconds"}]},
    "mark": {"type": "text", "align": "center", "baseline": "middle", "fontSize": 14},
    "encoding": {"text": {"field": "label"}}
   }
  ]
 }
 ]
}
]
}
